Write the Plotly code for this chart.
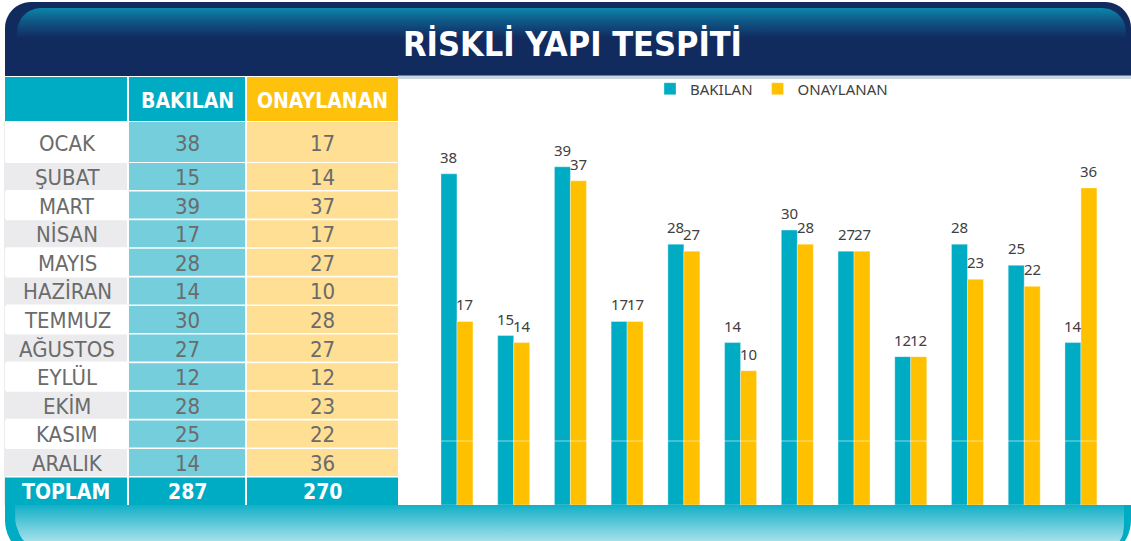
import numpy as np
import plotly.graph_objects as go

# ---------------- data ----------------
MONTHS = ["OCAK", "ŞUBAT", "MART", "NİSAN", "MAYIS", "HAZİRAN",
          "TEMMUZ", "AĞUSTOS", "EYLÜL", "EKİM", "KASIM", "ARALIK"]
BAKILAN = [38, 15, 39, 17, 28, 14, 30, 27, 12, 28, 25, 14]
ONAYLANAN = [17, 14, 37, 17, 27, 10, 28, 27, 12, 23, 22, 36]
SERIES_NAMES = ["BAKILAN", "ONAYLANAN"]
TITLE = "RİSKLİ YAPI TESPİTİ"
TOTAL_LABEL = "TOPLAM"

# ---------------- style ----------------
W, H = 1131, 541
TEAL = "#00abc4"
YELLOW = "#ffc000"
NAVY = "#112b5f"
CELL_TEAL = "#74cedc"
CELL_YELLOW = "#fedf93"
CELL_GREY = "#ebebed"
TXT_GREY = "#6b6b6b"
NARROW = "Liberation Sans Narrow, DejaVu Sans Condensed, Arial Narrow, sans-serif"
LABEL_FONT = "Noto Sans, Open Sans, sans-serif"

AX_MIN, AX_MAX = -9.1, 48.5          # value axis range of the bar chart
PLOT_X0, PLOT_X1 = 428.6, 1109.3     # pixel extent of bar plot
PLOT_Y0, PLOT_Y1 = 100, 505


def rounded_pts(x0, y0, x1, y1, rtl=0, rtr=0, rbr=0, rbl=0, n=14):
    def arc(cx, cy, r, a0, a1):
        if r == 0:
            return [(cx, cy)]
        t = np.linspace(a0, a1, n)
        return [(cx + r * np.cos(a), cy + r * np.sin(a)) for a in t]
    pts = []
    pts += arc(x0 + rtl, y0 + rtl, rtl, np.pi, 1.5 * np.pi)
    pts += arc(x1 - rtr, y0 + rtr, rtr, 1.5 * np.pi, 2 * np.pi)
    pts += arc(x1 - rbr, y1 - rbr, rbr, 0, 0.5 * np.pi)
    pts += arc(x0 + rbl, y1 - rbl, rbl, 0.5 * np.pi, np.pi)
    pts.append(pts[0])
    return pts


def path_of(pts):
    return "M " + " L ".join(f"{x:.2f},{y:.2f}" for x, y in pts) + " Z"


fig = go.Figure()
shapes = []
annotations = []

# ---------- decorations (pixel axes x2/y2) ----------
# title frame
shapes.append(dict(type="path", xref="x2", yref="y2", layer="below",
                   path=path_of(rounded_pts(5, 2, 1131, 76, rtl=26, rtr=26)),
                   fillcolor=NAVY, line=dict(width=0)))
inner = rounded_pts(17, 8, 1126, 42, rtl=24, rtr=24)
fig.add_trace(go.Scatter(
    x=[p[0] for p in inner], y=[p[1] for p in inner], xaxis="x2", yaxis="y2",
    mode="lines", line=dict(width=0), fill="toself",
    fillgradient=dict(type="vertical", start=8, stop=38,
                      colorscale=[[0, "#0b86aa"], [0.45, "#0f5685"], [1, NAVY]]),
    hoverinfo="skip", showlegend=False))
# separator under title
shapes.append(dict(type="rect", xref="x2", yref="y2", layer="below",
                   x0=398, x1=1131, y0=75.5, y1=79, fillcolor="#c9d6e2",
                   line=dict(width=0)))
# bottom band
shapes.append(dict(type="path", xref="x2", yref="y2", layer="below",
                   path=path_of(rounded_pts(5, 505, 1131, 560, rbl=40, rbr=40)),
                   fillcolor=TEAL, line=dict(width=0)))
band = rounded_pts(15, 505, 1124, 556, rbl=40, rbr=30)
fig.add_trace(go.Scatter(
    x=[p[0] for p in band], y=[p[1] for p in band], xaxis="x2", yaxis="y2",
    mode="lines", line=dict(width=0), fill="toself",
    fillgradient=dict(type="vertical", start=505, stop=545,
                      colorscale=[[0, "#12b0c7"], [1, "#b4e5ee"]]),
    hoverinfo="skip", showlegend=False))
# thin left border of the table
shapes.append(dict(type="line", xref="x2", yref="y2", layer="below",
                   x0=5, x1=5, y0=121, y1=505, line=dict(color="#d8d8d8", width=1)))

# ---------- table ----------
COLS = [(5, 127), (129, 245), (247, 398)]
HEAD_Y = (77, 121)
FIRST_ROW = (122, 162)
ROW_START, ROW_STEP, ROW_H = 163, 28.6, 27


def cell(x0, x1, y0, y1, fill):
    shapes.append(dict(type="rect", xref="x2", yref="y2", layer="below",
                       x0=x0, x1=x1, y0=y0, y1=y1, fillcolor=fill,
                       line=dict(width=0)))


def text(x, y, s, size=22, color=TXT_GREY, family=NARROW):
    annotations.append(dict(xref="x2", yref="y2", x=x, y=y, text=s,
                            showarrow=False, xanchor="center", yanchor="middle",
                            font=dict(family=family, size=size, color=color)))


# header
cell(*COLS[0], *HEAD_Y, TEAL)
cell(*COLS[1], *HEAD_Y, TEAL)
cell(*COLS[2], *HEAD_Y, "#fec20d")
for (x0, x1), name in zip(COLS[1:], SERIES_NAMES):
    text((x0 + x1) / 2, (HEAD_Y[0] + HEAD_Y[1]) / 2 + 1.5, f"<b>{name}</b>",
         size=21, color="white")

# month rows
for i, (m, b, o) in enumerate(zip(MONTHS, BAKILAN, ONAYLANAN)):
    if i == 0:
        y0, y1 = FIRST_ROW
    else:
        y0 = ROW_START + (i - 1) * ROW_STEP
        y1 = y0 + ROW_H
    cell(*COLS[0], y0, y1, "white" if i % 2 == 0 else CELL_GREY)
    cell(*COLS[1], y0, y1, CELL_TEAL)
    cell(*COLS[2], y0, y1, CELL_YELLOW)
    yc = (y0 + y1) / 2 + 1
    text((COLS[0][0] + COLS[0][1]) / 2 + 1, yc, m)
    text((COLS[1][0] + COLS[1][1]) / 2, yc, str(b))
    text((COLS[2][0] + COLS[2][1]) / 2, yc, str(o))

# totals row
ty0 = ROW_START + 11 * ROW_STEP
ty1 = 505
for c in COLS:
    cell(*c, ty0, ty1, TEAL)
tyc = (ty0 + ty1) / 2 + 1
text((COLS[0][0] + COLS[0][1]) / 2, tyc, f"<b>{TOTAL_LABEL}</b>", size=21, color="white")
text((COLS[1][0] + COLS[1][1]) / 2, tyc, f"<b>{sum(BAKILAN)}</b>", size=21, color="white")
text((COLS[2][0] + COLS[2][1]) / 2, tyc, f"<b>{sum(ONAYLANAN)}</b>", size=21, color="white")

# title
text(572, 44, f"<b>{TITLE}</b>", size=34, color="white")

# ---------- bar chart ----------
for name, vals, color, shift in [(SERIES_NAMES[0], BAKILAN, TEAL, -8),
                                 (SERIES_NAMES[1], ONAYLANAN, YELLOW, 8)]:
    fig.add_trace(go.Bar(
        x=MONTHS, y=[v - AX_MIN for v in vals], base=AX_MIN, name=name,
        marker=dict(color=color, line=dict(color="rgba(255,255,255,0.35)", width=1)),
        customdata=vals, hovertemplate="%{x}: %{customdata}<extra>" + name + "</extra>",
        xaxis="x", yaxis="y"))
    for m, v in zip(MONTHS, vals):
        annotations.append(dict(xref="x", yref="y", x=m, y=v, text=str(v),
                                showarrow=False, xshift=shift, yshift=17,
                                xanchor="center", yanchor="middle",
                                font=dict(family=LABEL_FONT, size=15, color="#404040")))

# faint line at value 0 over the bars
shapes.append(dict(type="line", xref="x domain", yref="y", x0=0, x1=1, y0=0, y1=0,
                   layer="above", line=dict(color="rgba(255,255,255,0.55)", width=1)))

fig.update_layout(
    width=W, height=H, margin=dict(l=0, r=0, t=0, b=0),
    paper_bgcolor="white", plot_bgcolor="rgba(0,0,0,0)",
    barmode="group", bargap=0.436, bargroupgap=0,
    xaxis=dict(domain=[PLOT_X0 / W, PLOT_X1 / W], range=[-0.5, 11.5],
               visible=False, fixedrange=True),
    yaxis=dict(domain=[1 - PLOT_Y1 / H, 1 - PLOT_Y0 / H], range=[AX_MIN, AX_MAX],
               visible=False, fixedrange=True),
    xaxis2=dict(domain=[0, 1], range=[0, W], visible=False, anchor="y2",
                fixedrange=True),
    yaxis2=dict(domain=[0, 1], range=[H, 0], visible=False, anchor="x2",
                fixedrange=True),
    legend=dict(orientation="h", x=650 / W, xanchor="left", y=1 - 89 / H,
                yanchor="middle", bgcolor="rgba(0,0,0,0)",
                font=dict(family=LABEL_FONT, size=15, color="#404040"),
                traceorder="normal"),
    shapes=shapes, annotations=annotations,
    showlegend=True,
)

fig.write_html("out.html", config={"displayModeBar": False},
               post_script="document.body.style.margin='0';document.body.style.overflow='hidden';")
